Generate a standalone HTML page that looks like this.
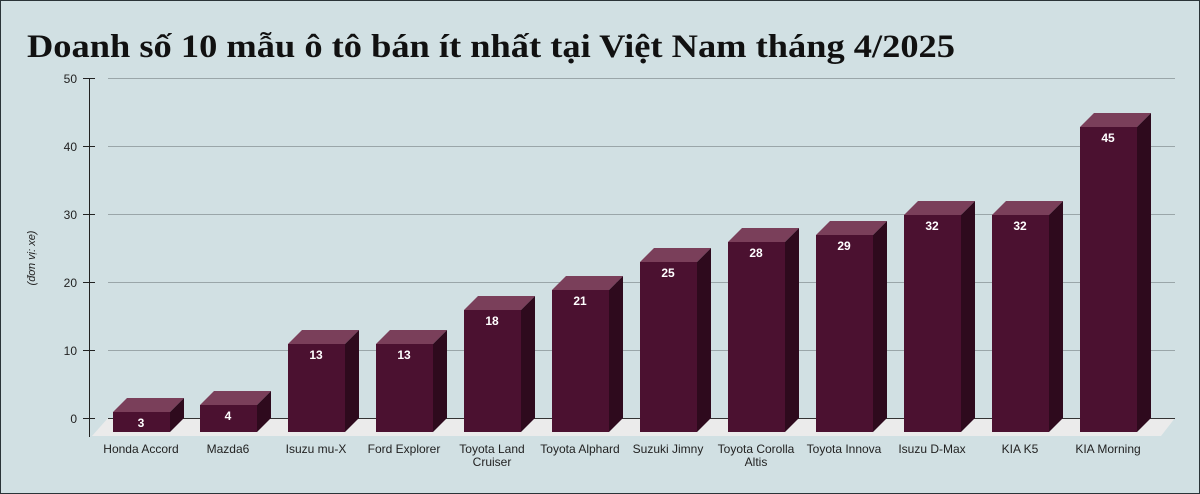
<!DOCTYPE html>
<html><head><meta charset="utf-8"><style>
body{margin:0;}
svg{display:block;}
</style></head><body>
<svg width="1200" height="494" xmlns="http://www.w3.org/2000/svg" font-family="Liberation Sans, Arial, sans-serif">
<rect x="0.5" y="0.5" width="1199" height="493" fill="#d1e0e3" stroke="#2a3438"/>
<text x="27" y="57" font-family="Liberation Serif, serif" font-weight="bold" font-size="33" fill="#111" textLength="928" lengthAdjust="spacingAndGlyphs">Doanh số 10 mẫu ô tô bán ít nhất tại Việt Nam tháng 4/2025</text>
<g stroke="#9aa6a9" stroke-width="1">
<line x1="108" y1="78.5" x2="1175" y2="78.5"/>
<line x1="108" y1="146.5" x2="1175" y2="146.5"/>
<line x1="108" y1="214.5" x2="1175" y2="214.5"/>
<line x1="108" y1="282.5" x2="1175" y2="282.5"/>
<line x1="108" y1="350.5" x2="1175" y2="350.5"/>
</g>
<polygon points="108,418 1175,418 1161,436 92,436" fill="#ebebeb"/>
<line x1="108" y1="418.5" x2="1175" y2="418.5" stroke="#333"/>
<g stroke="#222" stroke-width="1">
<line x1="89.5" y1="78" x2="89.5" y2="437"/>
<line x1="83" y1="78.5" x2="95" y2="78.5"/>
<line x1="83" y1="146.5" x2="95" y2="146.5"/>
<line x1="83" y1="214.5" x2="95" y2="214.5"/>
<line x1="83" y1="282.5" x2="95" y2="282.5"/>
<line x1="83" y1="350.5" x2="95" y2="350.5"/>
<line x1="83" y1="418.5" x2="95" y2="418.5"/>
</g>
<g font-size="12" fill="#222" text-anchor="end">
<text x="77" y="83">50</text><text x="77" y="151">40</text><text x="77" y="219">30</text><text x="77" y="287">20</text><text x="77" y="355">10</text><text x="77" y="423">0</text>
</g>
<text transform="translate(35,258) rotate(-90)" font-size="11" font-style="italic" fill="#222" text-anchor="middle">(đơn vị: xe)</text>
<g font-size="12" fill="#222" text-anchor="middle">
<text x="141" y="453">Honda Accord</text>
<text x="228" y="453">Mazda6</text>
<text x="316" y="453">Isuzu mu-X</text>
<text x="404" y="453">Ford Explorer</text>
<text x="492" y="453">Toyota Land</text><text x="492" y="466">Cruiser</text>
<text x="580" y="453">Toyota Alphard</text>
<text x="668" y="453">Suzuki Jimny</text>
<text x="756" y="453">Toyota Corolla</text><text x="756" y="466">Altis</text>
<text x="844" y="453">Toyota Innova</text>
<text x="932" y="453">Isuzu D-Max</text>
<text x="1020" y="453">KIA K5</text>
<text x="1108" y="453">KIA Morning</text>
</g>
<g>
<g>
<polygon points="113,412 127,398 184,398 170,412" fill="#7a3f5a"/><polygon points="170,412 184,398 184,418 170,432" fill="#2e0a1d"/><rect x="113" y="412" width="57" height="20" fill="#4b1130"/>
<polygon points="200,405 214,391 271,391 257,405" fill="#7a3f5a"/><polygon points="257,405 271,391 271,418 257,432" fill="#2e0a1d"/><rect x="200" y="405" width="57" height="27" fill="#4b1130"/>
<polygon points="288,344 302,330 359,330 345,344" fill="#7a3f5a"/><polygon points="345,344 359,330 359,418 345,432" fill="#2e0a1d"/><rect x="288" y="344" width="57" height="88" fill="#4b1130"/>
<polygon points="376,344 390,330 447,330 433,344" fill="#7a3f5a"/><polygon points="433,344 447,330 447,418 433,432" fill="#2e0a1d"/><rect x="376" y="344" width="57" height="88" fill="#4b1130"/>
<polygon points="464,310 478,296 535,296 521,310" fill="#7a3f5a"/><polygon points="521,310 535,296 535,418 521,432" fill="#2e0a1d"/><rect x="464" y="310" width="57" height="122" fill="#4b1130"/>
<polygon points="552,290 566,276 623,276 609,290" fill="#7a3f5a"/><polygon points="609,290 623,276 623,418 609,432" fill="#2e0a1d"/><rect x="552" y="290" width="57" height="142" fill="#4b1130"/>
<polygon points="640,262 654,248 711,248 697,262" fill="#7a3f5a"/><polygon points="697,262 711,248 711,418 697,432" fill="#2e0a1d"/><rect x="640" y="262" width="57" height="170" fill="#4b1130"/>
<polygon points="728,242 742,228 799,228 785,242" fill="#7a3f5a"/><polygon points="785,242 799,228 799,418 785,432" fill="#2e0a1d"/><rect x="728" y="242" width="57" height="190" fill="#4b1130"/>
<polygon points="816,235 830,221 887,221 873,235" fill="#7a3f5a"/><polygon points="873,235 887,221 887,418 873,432" fill="#2e0a1d"/><rect x="816" y="235" width="57" height="197" fill="#4b1130"/>
<polygon points="904,215 918,201 975,201 961,215" fill="#7a3f5a"/><polygon points="961,215 975,201 975,418 961,432" fill="#2e0a1d"/><rect x="904" y="215" width="57" height="217" fill="#4b1130"/>
<polygon points="992,215 1006,201 1063,201 1049,215" fill="#7a3f5a"/><polygon points="1049,215 1063,201 1063,418 1049,432" fill="#2e0a1d"/><rect x="992" y="215" width="57" height="217" fill="#4b1130"/>
<polygon points="1080,127 1094,113 1151,113 1137,127" fill="#7a3f5a"/><polygon points="1137,127 1151,113 1151,418 1137,432" fill="#2e0a1d"/><rect x="1080" y="127" width="57" height="305" fill="#4b1130"/>
</g>
<g font-size="12" font-weight="bold" fill="#fff" text-anchor="middle">
<text x="141" y="427">3</text>
<text x="228" y="420">4</text>
<text x="316" y="359">13</text>
<text x="404" y="359">13</text>
<text x="492" y="325">18</text>
<text x="580" y="305">21</text>
<text x="668" y="277">25</text>
<text x="756" y="257">28</text>
<text x="844" y="250">29</text>
<text x="932" y="230">32</text>
<text x="1020" y="230">32</text>
<text x="1108" y="142">45</text>
</g>
</g>
</svg>
</body></html>
